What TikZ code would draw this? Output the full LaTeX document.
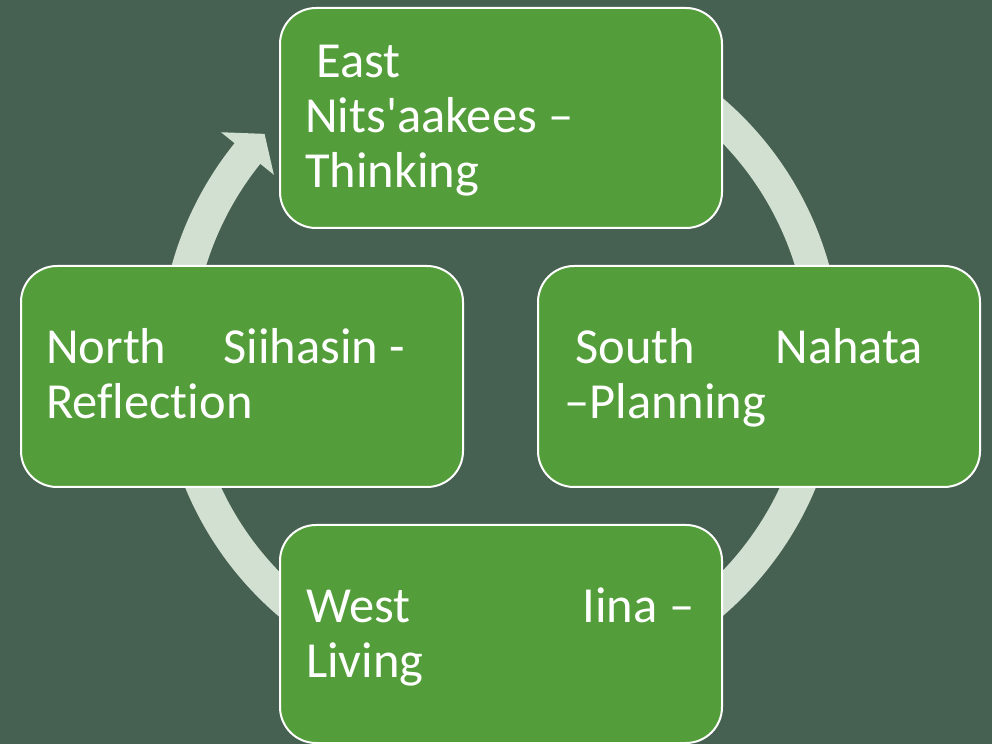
\documentclass[tikz,border=0pt]{standalone}
\usepackage{fontspec}
\setmainfont{Carlito}[Ligatures=NoCommon]
\usetikzlibrary{calc}
\definecolor{bg}{RGB}{70,96,81}
\definecolor{boxgreen}{RGB}{83,157,58}
\definecolor{ringc}{RGB}{209,224,208}
\tikzset{
  blockbox/.style={draw=white, line width=2pt, fill=boxgreen, rounded corners=36pt,
    minimum width=442pt, minimum height=220pt, inner sep=0pt},
  blocktext/.style={text=white, inner sep=0pt, anchor=base west,
    font=\fontsize{50.5pt}{55pt}\selectfont},
  ringfill/.style={fill=ringc},
}
\begin{document}
\begin{tikzpicture}[x=1pt,y=1pt]
\fill[bg] (0,0) rectangle (992,744);
\useasboundingbox (0,0) rectangle (992,744);
\coordinate (C) at (500.5,387);
% cycle ring with arrowhead
\fill[ringfill] ($(C)+(141.2:341.25)$) arc[start angle=141.2, end angle=460, radius=341.25pt]
  -- ($(C)+(460:308.25)$) arc[start angle=460, end angle=141.2, radius=308.25pt]
  -- ($(C)+(141.2:290.8)$) -- ($(C)+(136.6:324.75)$) -- ($(C)+(141.2:358.7)$) -- cycle;
% blocks
\node[blockbox] (east) at (501,626) {};
\node[blockbox, minimum height=221pt] (south) at (759,367.5) {};
\node[blockbox, minimum height=221pt] (north) at (242,367.5) {};
\node[blockbox, minimum height=218pt] (west) at (501,110) {};
% texts
\node[blocktext] (eastT) at (305,666.5) {\parbox[t]{300pt}{\ East\\Nits\textquotesingle aakees –\\Thinking}};
\node[blocktext] (southT) at (564,380) {\parbox[t]{359pt}{\ South\hfill Nahata\\–Planning}};
\node[blocktext] (northT) at (46,380) {\parbox[t]{359pt}{North\hfill Siihasin -\\Reflection}};
\node[blocktext] (westT) at (306,122) {\parbox[t]{388pt}{West\hfill Iina –\\Living}};
\end{tikzpicture}
\end{document}
